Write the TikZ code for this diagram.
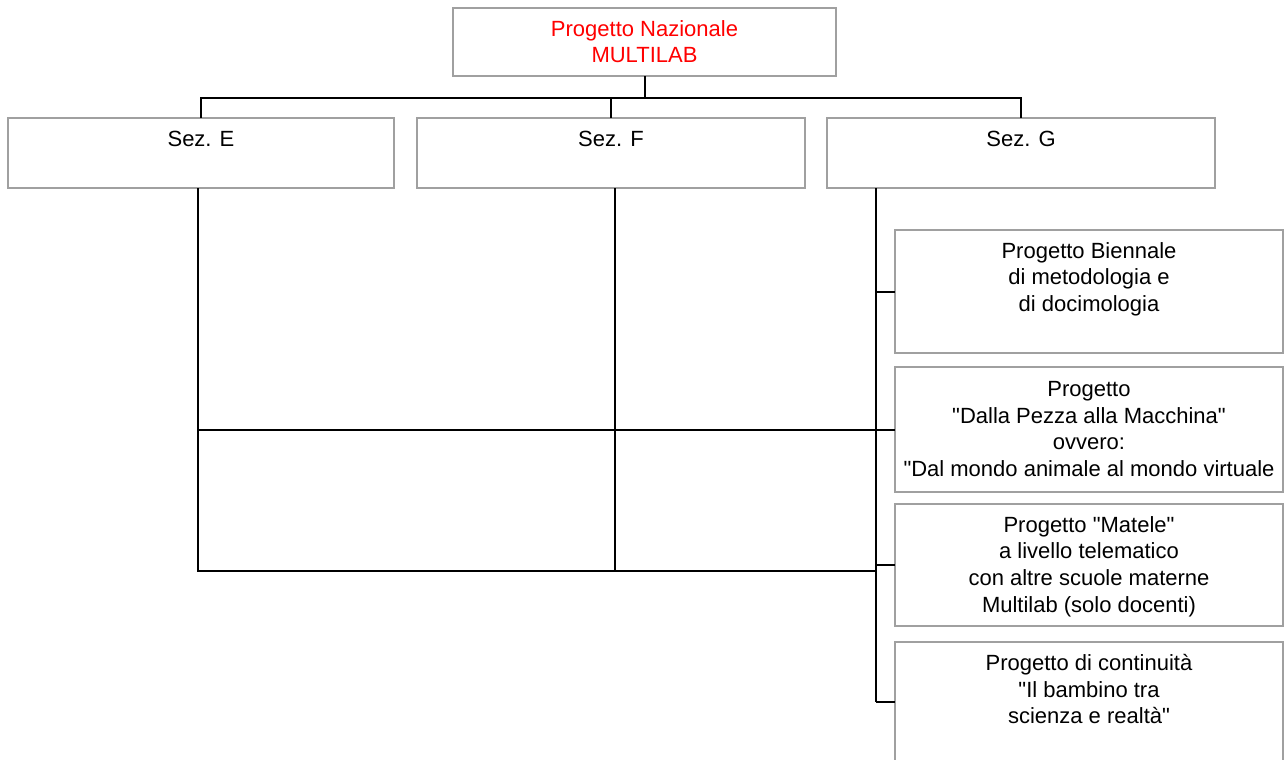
\documentclass[tikz,border=0pt]{standalone}
\usepackage{fontspec}
\setmainfont{Liberation Sans}[Ligatures=TeXOff]
\usetikzlibrary{calc}
\definecolor{boxgray}{RGB}{160,160,160}
\begin{document}
\begin{tikzpicture}[x=0.75pt,y=-0.75pt,
  box/.style={draw=boxgray, line width=1.4pt, inner sep=0pt, outer sep=0pt, anchor=north west},
  wh/.style 2 args={minimum width=#1*0.75pt, minimum height=#2*0.75pt},
  txt/.style={font=\fontsize{16.5}{20}\selectfont, align=center, inner sep=0pt, anchor=north},
  conn/.style={draw=black, line width=1.5pt}
]
\useasboundingbox (0,0) rectangle (1285,760);
\clip (0,0) rectangle (1285,760);

% boxes
\node[box, wh={383}{68}] (top) at (453,8) {};
\node[box, wh={386}{70}] (sezE) at (8,118) {};
\node[box, wh={388}{70}] (sezF) at (417,118) {};
\node[box, wh={388}{70}] (sezG) at (827,118) {};
\node[box, wh={388}{123}] (b1) at (895,230) {};
\node[box, wh={388}{125}] (b2) at (895,367) {};
\node[box, wh={388}{122}] (b3) at (895,504) {};
\node[box, wh={388}{120}] (b4) at (895,642) {};

% texts
\node[txt, text=red] (ttop) at ($(top.north)+(0,12)$) {Progetto Nazionale\\MULTILAB};
\node[txt] (tE) at ($(sezE.north)+(0,13)$) {Sez. E};
\node[txt] (tF) at ($(sezF.north)+(0,13)$) {Sez. F};
\node[txt] (tG) at ($(sezG.north)+(0,13)$) {Sez. G};
\node[txt] (t1) at ($(b1.north)+(0,12)$) {Progetto Biennale\\di metodologia e\\di docimologia};
\node[txt] (t2) at ($(b2.north)+(0,14)$) {Progetto\\"Dalla Pezza alla Macchina"\\ovvero:\\"Dal mondo animale al mondo virtuale};
\node[txt] (t3) at ($(b3.north)+(0,12)$) {Progetto "Matele"\\a livello telematico\\con altre scuole materne\\Multilab (solo docenti)};
\node[txt] (t4) at ($(b4.north)+(0,12)$) {Progetto di continuità\\"Il bambino tra\\scienza e realtà"};

% top bus
\draw[conn] (top.south) -- ++(0,22) coordinate (bus);
\draw[conn] (sezE.north) |- (bus);
\draw[conn] (sezG.north) |- (bus);
\draw[conn] (sezF.north) -- (sezF.north |- bus);

% section lines
\coordinate (eS) at ($(sezE.south)+(-3,0)$);
\coordinate (fS) at ($(sezF.south)+(4,0)$);
\coordinate (gS) at ($(sezG.south west)+(49,0)$);
\coordinate (eEnd) at ($(eS)+(0,383)$);
\draw[conn] (gS) -- (gS |- b4.west);
\draw[conn] (gS |- b1.west) -- (b1.west);
\draw[conn] (eS |- b2.west) -- (b2.west);
\draw[conn] (gS |- b3.west) -- (b3.west);
\draw[conn] (gS |- b4.west) -- (b4.west);
\draw[conn] (eS) -- (eEnd) -- (eEnd -| gS);
\draw[conn] (fS) -- (fS |- eEnd);
\end{tikzpicture}
\end{document}
